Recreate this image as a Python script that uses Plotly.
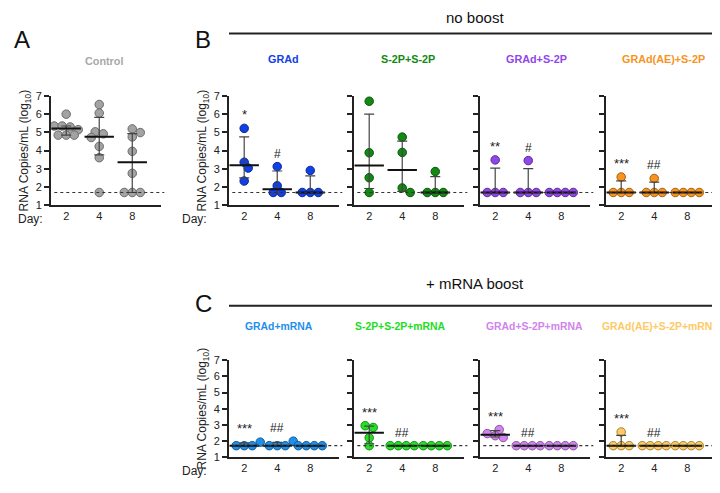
import plotly.graph_objects as go

W, H = 720, 493
DAYS = ["2", "4", "8"]
LOD = 1.7

# ---------------- data ----------------
ctrl_vals = [[6.0, 5.35, 5.35, 5.3, 5.15, 4.85, 4.85, 4.85],
             [6.53, 6.06, 5.03, 4.92, 4.72, 4.23, 3.61, 1.7],
             [5.19, 4.99, 4.75, 3.96, 2.75, 1.7, 1.7, 1.7]]
ctrl_mid = [5.22, 4.76, 3.36]
ctrl_lo = [4.85, 3.76, 1.7]
ctrl_hi = [5.35, 5.82, 4.93]

grad_vals = [[5.22, 3.36, 3.04, 2.33], [3.12, 2.07, 1.7, 1.7], [2.91, 1.7, 1.7, 1.7]]
grad_mid = [3.2, 1.88, 1.7]
grad_lo = [2.5, 1.7, 1.7]
grad_hi = [4.75, 2.88, 2.61]
grad_sig = ["*", "#", ""]

s2p_vals = [[6.71, 3.88, 2.51, 1.7], [4.74, 3.9, 1.95, 1.7], [2.85, 1.7, 1.7, 1.7]]
s2p_mid = [3.18, 2.93, 1.7]
s2p_lo = [1.92, 1.76, 1.7]
s2p_hi = [6.0, 4.52, 2.57]
s2p_sig = ["", "", ""]

grads2p_vals = [[3.49, 1.7, 1.7, 1.7], [3.45, 1.7, 1.7, 1.7], [1.7, 1.7, 1.7, 1.7]]
grads2p_mid = [1.7, 1.7, 1.7]
grads2p_lo = [1.7, 1.7, 1.7]
grads2p_hi = [3.04, 3.01, 1.7]
grads2p_sig = ["**", "#", ""]

ae_vals = [[2.55, 1.7, 1.7, 1.7], [2.47, 1.7, 1.7, 1.7], [1.7, 1.7, 1.7, 1.7]]
ae_mid = [1.7, 1.7, 1.7]
ae_lo = [1.7, 1.7, 1.7]
ae_hi = [2.34, 2.27, 1.7]
ae_sig = ["***", "##", ""]

gradm_vals = [[1.92, 1.7, 1.7, 1.7], [1.98, 1.7, 1.7, 1.7], [1.7, 1.7, 1.7, 1.7]]
gradm_mid = [1.7, 1.7, 1.7]
gradm_lo = [1.7, 1.7, 1.7]
gradm_hi = [1.87, 1.91, 1.7]
gradm_sig = ["***", "##", ""]

s2pm_vals = [[2.94, 2.83, 2.19, 1.7], [1.7, 1.7, 1.7, 1.7], [1.7, 1.7, 1.7, 1.7]]
s2pm_mid = [2.51, 1.7, 1.7]
s2pm_lo = [1.82, 1.7, 1.7]
s2pm_hi = [2.91, 1.7, 1.7]
s2pm_sig = ["***", "##", ""]

grads2pm_vals = [[2.7, 2.45, 2.32, 2.21], [1.7, 1.7, 1.7, 1.7], [1.7, 1.7, 1.7, 1.7]]
grads2pm_mid = [2.38, 1.7, 1.7]
grads2pm_lo = [2.24, 1.7, 1.7]
grads2pm_hi = [2.64, 1.7, 1.7]
grads2pm_sig = ["***", "##", ""]

aem_vals = [[2.55, 1.7, 1.7, 1.7], [1.7, 1.7, 1.7, 1.7], [1.7, 1.7, 1.7, 1.7]]
aem_mid = [1.7, 1.7, 1.7]
aem_lo = [1.7, 1.7, 1.7]
aem_hi = [2.34, 1.7, 1.7]
aem_sig = ["***", "##", ""]

# ---------------- layout / styles ----------------
FONT = "Liberation Sans, Arial, sans-serif"
TOP = (196, 84)     # pixel y of value 1 and value 7, top row
BOT = (454, 355)    # bottom row
PW = 110            # panel width px
XR = [-0.46, 2.87]
PX_X = PW / (XR[1] - XR[0])

panels = [
    dict(title="Control", vals=ctrl_vals, mid=ctrl_mid, lo=ctrl_lo, hi=ctrl_hi, sig=["", "", ""],
         fill="#a3a3a3", edge="#6a6a6a", tcol="#a8a8a8", x0=43, row=TOP, labels=True, day_x=37,
         tx=96, ty=48, tanchor="center", tsize=10.8),
    dict(title="GRAd", vals=grad_vals, mid=grad_mid, lo=grad_lo, hi=grad_hi, sig=grad_sig,
         fill="#1140e6", edge="#0a2a90", tcol="#1140e6", x0=221, row=TOP, labels=True, day_x=201,
         tx=275, ty=46, tanchor="center", tsize=10.8),
    dict(title="S-2P+S-2P", vals=s2p_vals, mid=s2p_mid, lo=s2p_lo, hi=s2p_hi, sig=s2p_sig,
         fill="#128a12", edge="#0a550a", tcol="#128a12", x0=346, row=TOP, labels=False,
         tx=400, ty=46, tanchor="center", tsize=10.8),
    dict(title="GRAd+S-2P", vals=grads2p_vals, mid=grads2p_mid, lo=grads2p_lo, hi=grads2p_hi, sig=grads2p_sig,
         fill="#9146ea", edge="#5a2a96", tcol="#9146ea", x0=472, row=TOP, labels=False,
         tx=528, ty=46, tanchor="center", tsize=10.8),
    dict(title="GRAd(AE)+S-2P", vals=ae_vals, mid=ae_mid, lo=ae_lo, hi=ae_hi, sig=ae_sig,
         fill="#f7931e", edge="#a65f10", tcol="#f7931e", x0=598, row=TOP, labels=False,
         tx=655, ty=46, tanchor="center", tsize=10.8),
    dict(title="GRAd+mRNA", vals=gradm_vals, mid=gradm_mid, lo=gradm_lo, hi=gradm_hi, sig=gradm_sig,
         fill="#1f8fea", edge="#105a9a", tcol="#1f8fea", x0=221, row=BOT, labels=True, day_x=201,
         tx=271, ty=320, tanchor="center", tsize=10.4),
    dict(title="S-2P+S-2P+mRNA", vals=s2pm_vals, mid=s2pm_mid, lo=s2pm_lo, hi=s2pm_hi, sig=s2pm_sig,
         fill="#26e026", edge="#148c14", tcol="#22dd22", x0=346, row=BOT, labels=False,
         tx=393, ty=320, tanchor="center", tsize=10.4),
    dict(title="GRAd+S-2P+mRNA", vals=grads2pm_vals, mid=grads2pm_mid, lo=grads2pm_lo, hi=grads2pm_hi, sig=grads2pm_sig,
         fill="#d084ec", edge="#8a55a0", tcol="#d084ec", x0=472, row=BOT, labels=False,
         tx=526, ty=320, tanchor="center", tsize=10.4),
    dict(title="GRAd(AE)+S-2P+mRNA", vals=aem_vals, mid=aem_mid, lo=aem_lo, hi=aem_hi, sig=aem_sig,
         fill="#fdca66", edge="#a8832c", tcol="#fdca66", x0=598, row=BOT, labels=False,
         tx=714, ty=320, tanchor="right", tsize=10.4),
]


def swarm(vals, px_y, d=8.0):
    """Horizontal offsets (category units) so equal values sit side by side."""
    order = sorted(range(len(vals)), key=lambda i: -vals[i])
    rows = []
    for i in order:
        if rows and abs(vals[rows[-1][-1]] - vals[i]) * px_y < 3:
            rows[-1].append(i)
        else:
            rows.append([i])
    rows.sort(key=len, reverse=True)
    placed, off = [], [0.0] * len(vals)
    for row in rows:
        n = len(row)
        base = [(k - (n - 1) / 2) * d for k in range(n)]
        chosen = 0
        for c in [0, d / 2, -d / 2, d, -d, 1.5 * d, -1.5 * d, 2 * d, -2 * d]:
            ok = all((b + c - px) ** 2 + (vals[i] * px_y - py) ** 2 >= (0.8 * d) ** 2
                     for b, i in zip(base, row) for px, py in placed)
            if ok:
                chosen = c
                break
        for b, i in zip(base, row):
            off[i] = (b + chosen) / PX_X
            placed.append((b + chosen, vals[i] * px_y))
    return off


fig = go.Figure()
layout = dict(width=W, height=H, margin=dict(l=0, r=0, t=0, b=0),
              paper_bgcolor="white", plot_bgcolor="white", showlegend=False,
              font=dict(family=FONT, color="#222"))
annotations, shapes = [], []

for k, p in enumerate(panels, start=1):
    xa = "x" if k == 1 else f"x{k}"
    ya = "y" if k == 1 else f"y{k}"
    y1px, y7px = p["row"]
    px_y = (y1px - y7px) / 6.0
    layout["xaxis" if k == 1 else f"xaxis{k}"] = dict(
        domain=[p["x0"] / W, (p["x0"] + PW) / W], anchor=ya, range=XR,
        tickvals=[0, 1, 2], ticktext=DAYS, ticks="", showline=True, linecolor="#222",
        linewidth=2, showgrid=False, zeroline=False, tickfont=dict(size=11, color="#222"),
        fixedrange=True)
    yax = dict(
        domain=[1 - y1px / H, 1 - y7px / H], anchor=xa, range=[1, 7],
        tickvals=[1, 2, 3, 4, 5, 6, 7], ticks="outside", ticklen=5, tickwidth=1.5,
        tickcolor="#222", showline=True, linecolor="#222", linewidth=2, showgrid=False,
        zeroline=False, showticklabels=p["labels"], tickfont=dict(size=11, color="#222"),
        fixedrange=True)
    if p["labels"]:
        yax["title"] = dict(text="RNA Copies/mL (log<sub>10</sub>)",
                            font=dict(size=12, color="#222"), standoff=4)
    layout["yaxis" if k == 1 else f"yaxis{k}"] = yax

    # limit of detection dotted line
    shapes.append(dict(type="line", xref=f"{xa} domain", yref=ya, x0=0.03, x1=1.03,
                       y0=LOD, y1=LOD, line=dict(color="#333", width=1.2, dash="dot")))

    # points
    xs, ys = [], []
    for d, vals in enumerate(p["vals"]):
        offs = swarm(vals, px_y)
        xs += [d + o for o in offs]
        ys += vals
    fig.add_trace(go.Scatter(x=xs, y=ys, mode="markers", xaxis=xa, yaxis=ya, cliponaxis=False,
                             marker=dict(size=8.5, color=p["fill"],
                                         line=dict(color=p["edge"], width=1)),
                             hoverinfo="skip"))
    # error bars (IQR) and median line
    fig.add_trace(go.Scatter(
        x=[0, 1, 2], y=p["mid"], mode="markers", xaxis=xa, yaxis=ya,
        marker=dict(symbol="line-ew", size=21, color="#111", line=dict(color="#111", width=2)),
        error_y=dict(type="data", symmetric=False,
                     array=[h - m for h, m in zip(p["hi"], p["mid"])],
                     arrayminus=[m - l for m, l in zip(p["mid"], p["lo"])],
                     color="#444", thickness=1.2, width=5),
        hoverinfo="skip"))

    # significance marks
    for d, s in enumerate(p["sig"]):
        if s:
            top = max(max(p["vals"][d]), p["hi"][d])
            annotations.append(dict(xref=xa, yref=ya, x=d, y=top, text=s, showarrow=False,
                                    yanchor="bottom", yshift=4,
                                    font=dict(size=13 if "*" in s else 12, color="#222")))
    # panel group title
    annotations.append(dict(xref="paper", yref="paper", x=p["tx"] / W,
                            y=1 - p["ty"] / H, text=f"<b>{p['title']}</b>", showarrow=False,
                            xanchor=p["tanchor"], yanchor="middle",
                            font=dict(size=p["tsize"], color=p["tcol"])))
    if p.get("day_x"):
        annotations.append(dict(xref="paper", yref="paper", x=p["day_x"] / W,
                                y=1 - (y1px + 14) / H, text="Day:", showarrow=False,
                                xanchor="right", yanchor="middle",
                                font=dict(size=12, color="#222")))

# section headers
for txt, ty, ly in [("no boost", 4, 20), ("+ mRNA boost", 276, 299)]:
    annotations.append(dict(xref="paper", yref="paper", x=467 / W, y=1 - ty / H, text=txt,
                            showarrow=False, xanchor="center", yanchor="middle",
                            font=dict(size=15, color="#111")))
    shapes.append(dict(type="line", xref="paper", yref="paper", x0=221 / W, x1=713 / W,
                       y0=1 - ly / H, y1=1 - ly / H, line=dict(color="#222", width=2)))
for txt, lx, ly in [("A", 14, 26), ("B", 195, 26), ("C", 195, 297)]:
    annotations.append(dict(xref="paper", yref="paper", x=lx / W, y=1 - ly / H, text=txt,
                            showarrow=False, xanchor="center", yanchor="middle",
                            font=dict(size=24, color="#111")))

layout["annotations"] = annotations
layout["shapes"] = shapes
fig.update_layout(**layout)
fig.write_html("out.html")
